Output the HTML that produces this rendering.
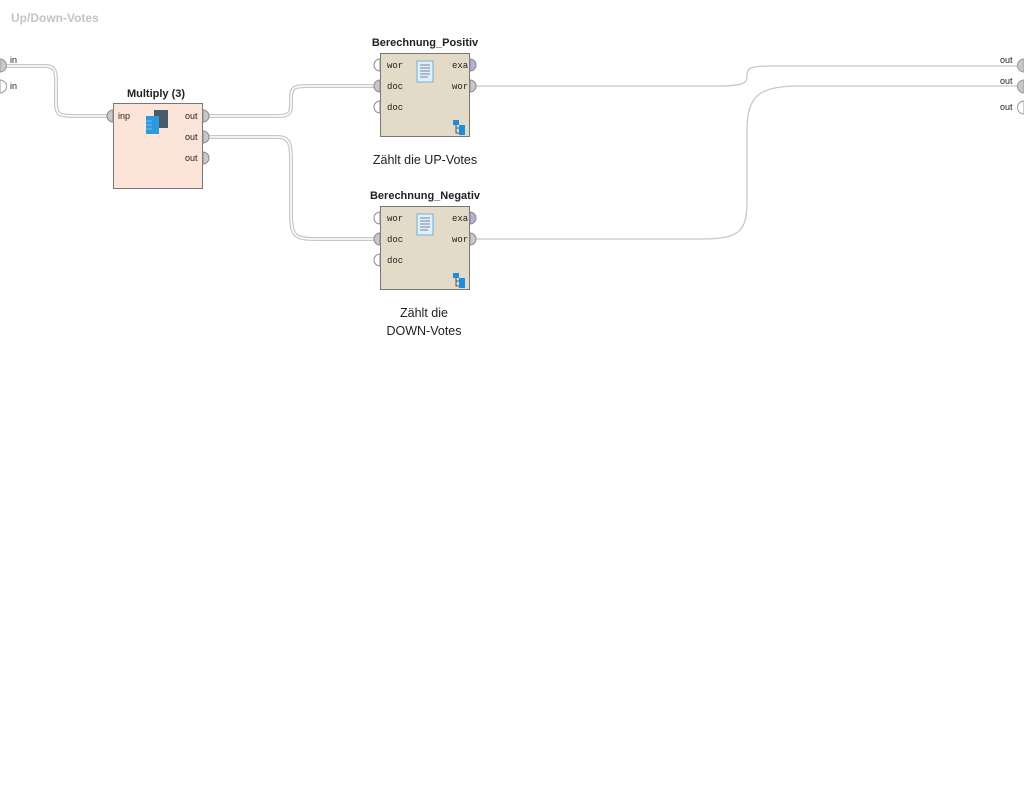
<!DOCTYPE html>
<html><head><style>
body{margin:0;width:1024px;height:787px;background:#fff;overflow:hidden}
svg{display:block}
text{font-family:"Liberation Sans",sans-serif}
.pl{font-family:"Liberation Mono",monospace;font-size:9px;fill:#222}
.sl{font-size:9px;fill:#222}
.t{font-size:11px;font-weight:bold;fill:#222}
.c{font-family:"Liberation Sans",sans-serif;font-size:12.5px;fill:#222}
</style></head><body>
<svg width="1024" height="787" viewBox="0 0 1024 787">
<text x="11" y="22" font-size="12" font-weight="bold" fill="#c4c4c4">Up/Down-Votes</text>
<g fill="none">
<g stroke="#c8c8c8" stroke-width="4">
<path d="M6,66 H45 C58,66 56,76 56,90 V104 C56,115 60,116 75,116 H108"/>
<path d="M208,116 H278 C291,116 291,112 291,102 V98 C291,87 294,86 310,86 H375"/>
<path d="M208,137 H278 C291,137 291,148 291,160 V216 C291,236 296,239 315,239 H375"/>
</g>
<g stroke="#fff" stroke-width="1.5">
<path d="M6,66 H45 C58,66 56,76 56,90 V104 C56,115 60,116 75,116 H108"/>
<path d="M208,116 H278 C291,116 291,112 291,102 V98 C291,87 294,86 310,86 H375"/>
<path d="M208,137 H278 C291,137 291,148 291,160 V216 C291,236 296,239 315,239 H375"/>
</g>
<g stroke="#c8c8c8" stroke-width="1.3">
<path d="M475,86 H720 C745,86 747,82 747,76 C747,68 750,66 770,66 H1018"/>
<path d="M475,239 H700 C740,239 747,232 747,200 V130 C747,95 760,86 800,86 H1018"/>
</g>
</g>
<path d="M0,59 A6,6 0 0 1 0,72 Z" fill="#c8c8c8" stroke="#999"/>
<path d="M0,80 A6,6 0 0 1 0,93 Z" fill="#fff" stroke="#999"/>
<text x="10" y="63" class="sl">in</text><text x="10" y="89" class="sl">in</text>
<path d="M1024,59 A6,6 0 0 0 1024,72 Z" fill="#c8c8c8" stroke="#999"/>
<path d="M1024,80 A6,6 0 0 0 1024,93 Z" fill="#c8c8c8" stroke="#999"/>
<path d="M1024,101 A6,6 0 0 0 1024,114 Z" fill="#fff" stroke="#999"/>
<text x="1000" y="63" class="sl">out</text><text x="1000" y="84" class="sl">out</text><text x="1000" y="110" class="sl">out</text>
<text x="156" y="97" class="t" text-anchor="middle">Multiply (3)</text>
<rect x="113.5" y="103.5" width="89" height="85" fill="#fde4d9" stroke="#777"/>
<path d="M113,110 A6,6 0 0 0 113,122 Z" fill="#c8c8c8" stroke="#888"/>
<path d="M203,110 A6,6 0 0 1 203,122 Z" fill="#c8c8c8" stroke="#888"/>
<path d="M203,131 A6,6 0 0 1 203,143 Z" fill="#c8c8c8" stroke="#888"/>
<path d="M203,152 A6,6 0 0 1 203,164 Z" fill="#c8c8c8" stroke="#888"/>
<text x="118" y="119" class="sl">inp</text>
<text x="185" y="119" class="sl">out</text><text x="185" y="140" class="sl">out</text><text x="185" y="161" class="sl">out</text>
<rect x="154" y="110" width="14" height="18" fill="#4a5a66"/>
<rect x="146" y="116" width="13" height="18" fill="#2b9ae0"/>
<g stroke="#8cd0f5" stroke-width="0.7"><line x1="146" y1="121" x2="152" y2="121"/><line x1="146" y1="125" x2="152" y2="125"/><line x1="146" y1="129" x2="152" y2="129"/></g>
<g id="op">
<rect x="380.5" y="53.5" width="89" height="83" fill="#e3dbc8" stroke="#777"/>
<path d="M380,59 A6,6 0 0 0 380,71 Z" fill="#fff" stroke="#888"/>
<path d="M380,80 A6,6 0 0 0 380,92 Z" fill="#c8c8c8" stroke="#888"/>
<path d="M380,101 A6,6 0 0 0 380,113 Z" fill="#fff" stroke="#888"/>
<path d="M470,59 A6,6 0 0 1 470,71 Z" fill="#b8addb" stroke="#888"/>
<path d="M470,80 A6,6 0 0 1 470,92 Z" fill="#c8c8c8" stroke="#888"/>
<text x="387" y="68" class="pl">wor</text><text x="387" y="89" class="pl">doc</text><text x="387" y="110" class="pl">doc</text>
<text x="452" y="68" class="pl">exa</text><text x="452" y="89" class="pl">wor</text>
<rect x="417" y="61" width="16" height="21" fill="#dff0fa" stroke="#6fb3d8"/>
<g stroke="#557" stroke-width="0.7"><line x1="420" y1="65" x2="430" y2="65"/><line x1="420" y1="68" x2="430" y2="68"/><line x1="420" y1="71" x2="430" y2="71"/><line x1="420" y1="74" x2="430" y2="74"/><line x1="420" y1="77" x2="428" y2="77"/></g>
<rect x="453" y="120" width="6" height="5" fill="#1a8ee0"/><rect x="459" y="125" width="6" height="5" fill="#1a8ee0"/><rect x="459" y="130" width="6" height="5" fill="#1a8ee0"/>
<path d="M456,125 V133 H459 M456,128 H459" stroke="#333" fill="none" stroke-width="0.8"/>
</g>
<text x="425" y="46" class="t" text-anchor="middle">Berechnung_Positiv</text>
<text x="425" y="164" class="c" text-anchor="middle">Zählt die UP-Votes</text>
<use href="#op" transform="translate(0,153)"/>
<text x="425" y="199" class="t" text-anchor="middle">Berechnung_Negativ</text>
<text x="424" y="317" class="c" text-anchor="middle">Zählt die</text>
<text x="424" y="335" class="c" text-anchor="middle">DOWN-Votes</text>
</svg>
</body></html>
